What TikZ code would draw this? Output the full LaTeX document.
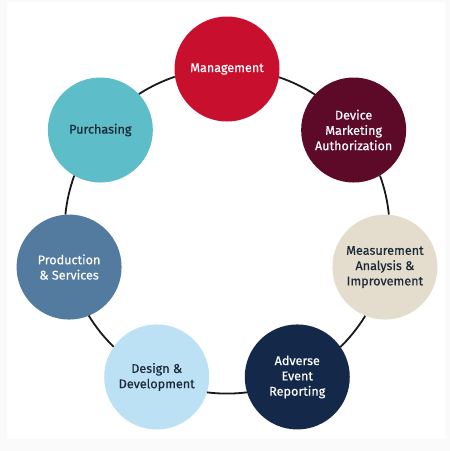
\documentclass[tikz,border=0pt]{standalone}
\usepackage{fontspec}
\setmainfont{Fira Sans}[FakeBold=0.45]
\definecolor{mgmtred}{HTML}{C8102E}
\definecolor{dmamaroon}{HTML}{5C0A28}
\definecolor{maibeige}{HTML}{E4DDCD}
\definecolor{aernavy}{HTML}{14294A}
\definecolor{ddblue}{HTML}{BCE0F4}
\definecolor{psblue}{HTML}{527B9F}
\definecolor{purchteal}{HTML}{5DBDC9}
\definecolor{darktext}{HTML}{1C2838}

\begin{document}
\begin{tikzpicture}[x=1pt,y=1pt]
   \tikzstyle{stage}=[circle,minimum size=105pt,inner sep=0pt,align=center,font=\fontsize{12.6}{15.3}\selectfont]
   \tikzstyle{link}=[line width=1.8pt,black!90]

   \fill [gray!4] (0,0) rectangle (450,-451) ;
   \fill [white] (7,-2) rectangle (445,-439) ;
   \coordinate (hub) at (227,-231) ;

   \node (mgmt) [stage,fill=mgmtred,text=white] at ([shift={(90:162)}]hub) {Management} ;
   \node (dma) [stage,fill=dmamaroon,text=white] at ([shift={(38.57:162)}]hub) {Device\\Marketing\\Authorization} ;
   \node (mai) [stage,fill=maibeige,text=darktext] at ([shift={(-12.86:162)}]hub) {Measurement\\Analysis \&\\Improvement} ;
   \node (aer) [stage,fill=aernavy,text=white] at ([shift={(-64.29:162)}]hub) {Adverse\\Event\\Reporting} ;
   \node (dd) [stage,fill=ddblue,text=darktext] at ([shift={(-115.71:162)}]hub) {Design \&\\Development} ;
   \node (ps) [stage,fill=psblue,text=white] at ([shift={(-167.14:162)}]hub) {Production\\\& Services} ;
   \node (purch) [stage,fill=purchteal,text=darktext] at ([shift={(141.43:162)}]hub) {Purchasing} ;

   % ring segments, each leaving a stage where the ring crosses its rim
   \foreach \n [count=\k from 0] in {mgmt,dma,mai,aer,dd,ps,purch} {
      \pgfmathsetmacro\ang{90-\k*360/7}
      \pgfmathsetmacro\rim{\ang-99.33}
      \pgfmathsetmacro\from{\ang-18.65}
      \pgfmathsetmacro\upto{\ang-360/7+18.65}
      \draw [link] (\n.\rim) arc [start angle=\from,end angle=\upto,radius=162] ;
   }
\end{tikzpicture}
\end{document}
